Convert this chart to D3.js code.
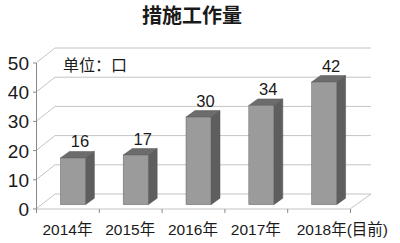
<!DOCTYPE html>
<html lang="zh">
<head>
<meta charset="UTF-8">
<title>措施工作量</title>
<script src="https://d3js.org/d3.v7.min.js"></script>
<style>
    body { margin: 0; background: #fff; }
    svg { display: block; }
    text { font-family: "Liberation Sans", Arial, "Noto Sans CJK SC", sans-serif; fill: #1a1a1a; }
</style>
</head>
<body>
<svg id="chart" width="400" height="243"></svg>
<script>
// data
const categories = ['2014年', '2015年', '2016年', '2017年', '2018年(目前)'];
const values = [16, 17, 30, 34, 42];
const yTicks = [0, 10, 20, 30, 40, 50];
const title = '措施工作量';
const unitLabel = '单位：口';

const svg = d3.select('#chart');

// layout
const x0 = 36, x1 = 350;
const wallDx = 19, wallDy = -15;   // back wall offset
const barShiftX = 5.5, barShiftY = -4.3;  // bar position inside depth
const barDx = 9, barDy = -6.5;     // bar depth

const x = d3.scaleBand().domain(categories).range([x0, x1]);
const y = d3.scaleLinear().domain([0, 50]).range([209, 63]);
const barW = 25;

// title
svg.append('text')
    .attr('x', 192).attr('y', 14)
    .attr('dominant-baseline', 'central')
    .attr('text-anchor', 'middle')
    .attr('font-size', 20)
    .attr('font-weight', 'bold')
    .style('font-family', '"Noto Sans CJK SC", sans-serif')
    .text(title);

// back gridlines + left wall diagonals
const grid = svg.append('g').attr('stroke', '#c4c4c4').attr('stroke-width', 1).attr('fill', 'none');
yTicks.forEach(t => {
    const yy = y(t);
    grid.append('line')
        .attr('x1', x0 + wallDx).attr('y1', yy + wallDy)
        .attr('x2', x1 + wallDx + 2).attr('y2', yy + wallDy);
    grid.append('line')
        .attr('x1', x0).attr('y1', yy)
        .attr('x2', x0 + wallDx).attr('y2', yy + wallDy);
});
// floor front edge and right edge
grid.append('line').attr('x1', x0).attr('y1', y(0)).attr('x2', x1).attr('y2', y(0));
grid.append('line').attr('x1', x1).attr('y1', y(0)).attr('x2', x1 + wallDx + 2).attr('y2', y(0) + wallDy);

// y axis
const axis = svg.append('g').attr('stroke', '#8a8a8a').attr('stroke-width', 1);
axis.append('line').attr('x1', x0 + 0.5).attr('y1', y(50)).attr('x2', x0 + 0.5).attr('y2', y(0) + 1);
yTicks.forEach(t => {
    axis.append('line').attr('x1', x0 - 3).attr('x2', x0).attr('y1', y(t)).attr('y2', y(t));
});
// x axis ticks
x.domain().concat([null]).forEach(c => {
    const xx = c === null ? x1 : x(c);
    axis.append('line').attr('x1', xx + 0.5).attr('x2', xx + 0.5).attr('y1', y(0)).attr('y2', y(0) + 4);
});

// y tick labels
svg.append('g').selectAll('text')
    .data(yTicks)
    .join('text')
    .attr('x', 29).attr('y', d => y(d) + 7)
    .attr('text-anchor', 'end')
    .attr('font-size', 19)
    .text(d => d);

// unit label
svg.append('text')
    .attr('x', 63).attr('y', 71)
    .attr('font-size', 16)
    .style('font-family', '"Noto Sans CJK SC", sans-serif')
    .text(unitLabel);

// bars
const bars = svg.append('g').selectAll('g')
    .data(categories.map((c, i) => ({ c, v: values[i] })))
    .join('g');

bars.each(function (d) {
    const g = d3.select(this);
    const fx = x(d.c) + x.bandwidth() / 2 - barW / 2 + barShiftX;
    const fyTop = y(d.v) + barShiftY;
    const fyBot = y(0) + barShiftY;
    // side
    g.append('path')
        .attr('d', `M${fx + barW},${fyTop} L${fx + barW + barDx},${fyTop + barDy} L${fx + barW + barDx},${fyBot + barDy} L${fx + barW},${fyBot} Z`)
        .attr('fill', '#5e5e5e').attr('stroke', '#555').attr('stroke-width', 0.5);
    // top
    g.append('path')
        .attr('d', `M${fx},${fyTop} L${fx + barDx},${fyTop + barDy} L${fx + barW + barDx},${fyTop + barDy} L${fx + barW},${fyTop} Z`)
        .attr('fill', '#6c6c6c').attr('stroke', '#555').attr('stroke-width', 0.5);
    // front
    g.append('rect')
        .attr('x', fx).attr('y', fyTop)
        .attr('width', barW).attr('height', fyBot - fyTop)
        .attr('fill', '#9b9b9b').attr('stroke', '#666').attr('stroke-width', 0.5);
    // value label
    g.append('text')
        .attr('x', fx + barW / 2 + 7)
        .attr('y', fyTop + barDy - 4)
        .attr('text-anchor', 'middle')
        .attr('font-size', 16.5)
        .text(d.v);
});

// x labels (a label wider than its band is right-aligned near the edge)
svg.append('g').selectAll('text')
    .data(categories)
    .join('text')
    .attr('x', d => x(d) + x.bandwidth() / 2)
    .attr('y', 235)
    .attr('text-anchor', 'middle')
    .attr('font-size', 15.5)
    .text(d => d)
    .each(function (d) {
        const w = this.getComputedTextLength();
        if (w > x.bandwidth()) d3.select(this).attr('x', 388 - w / 2);
    });
</script>
</body>
</html>
